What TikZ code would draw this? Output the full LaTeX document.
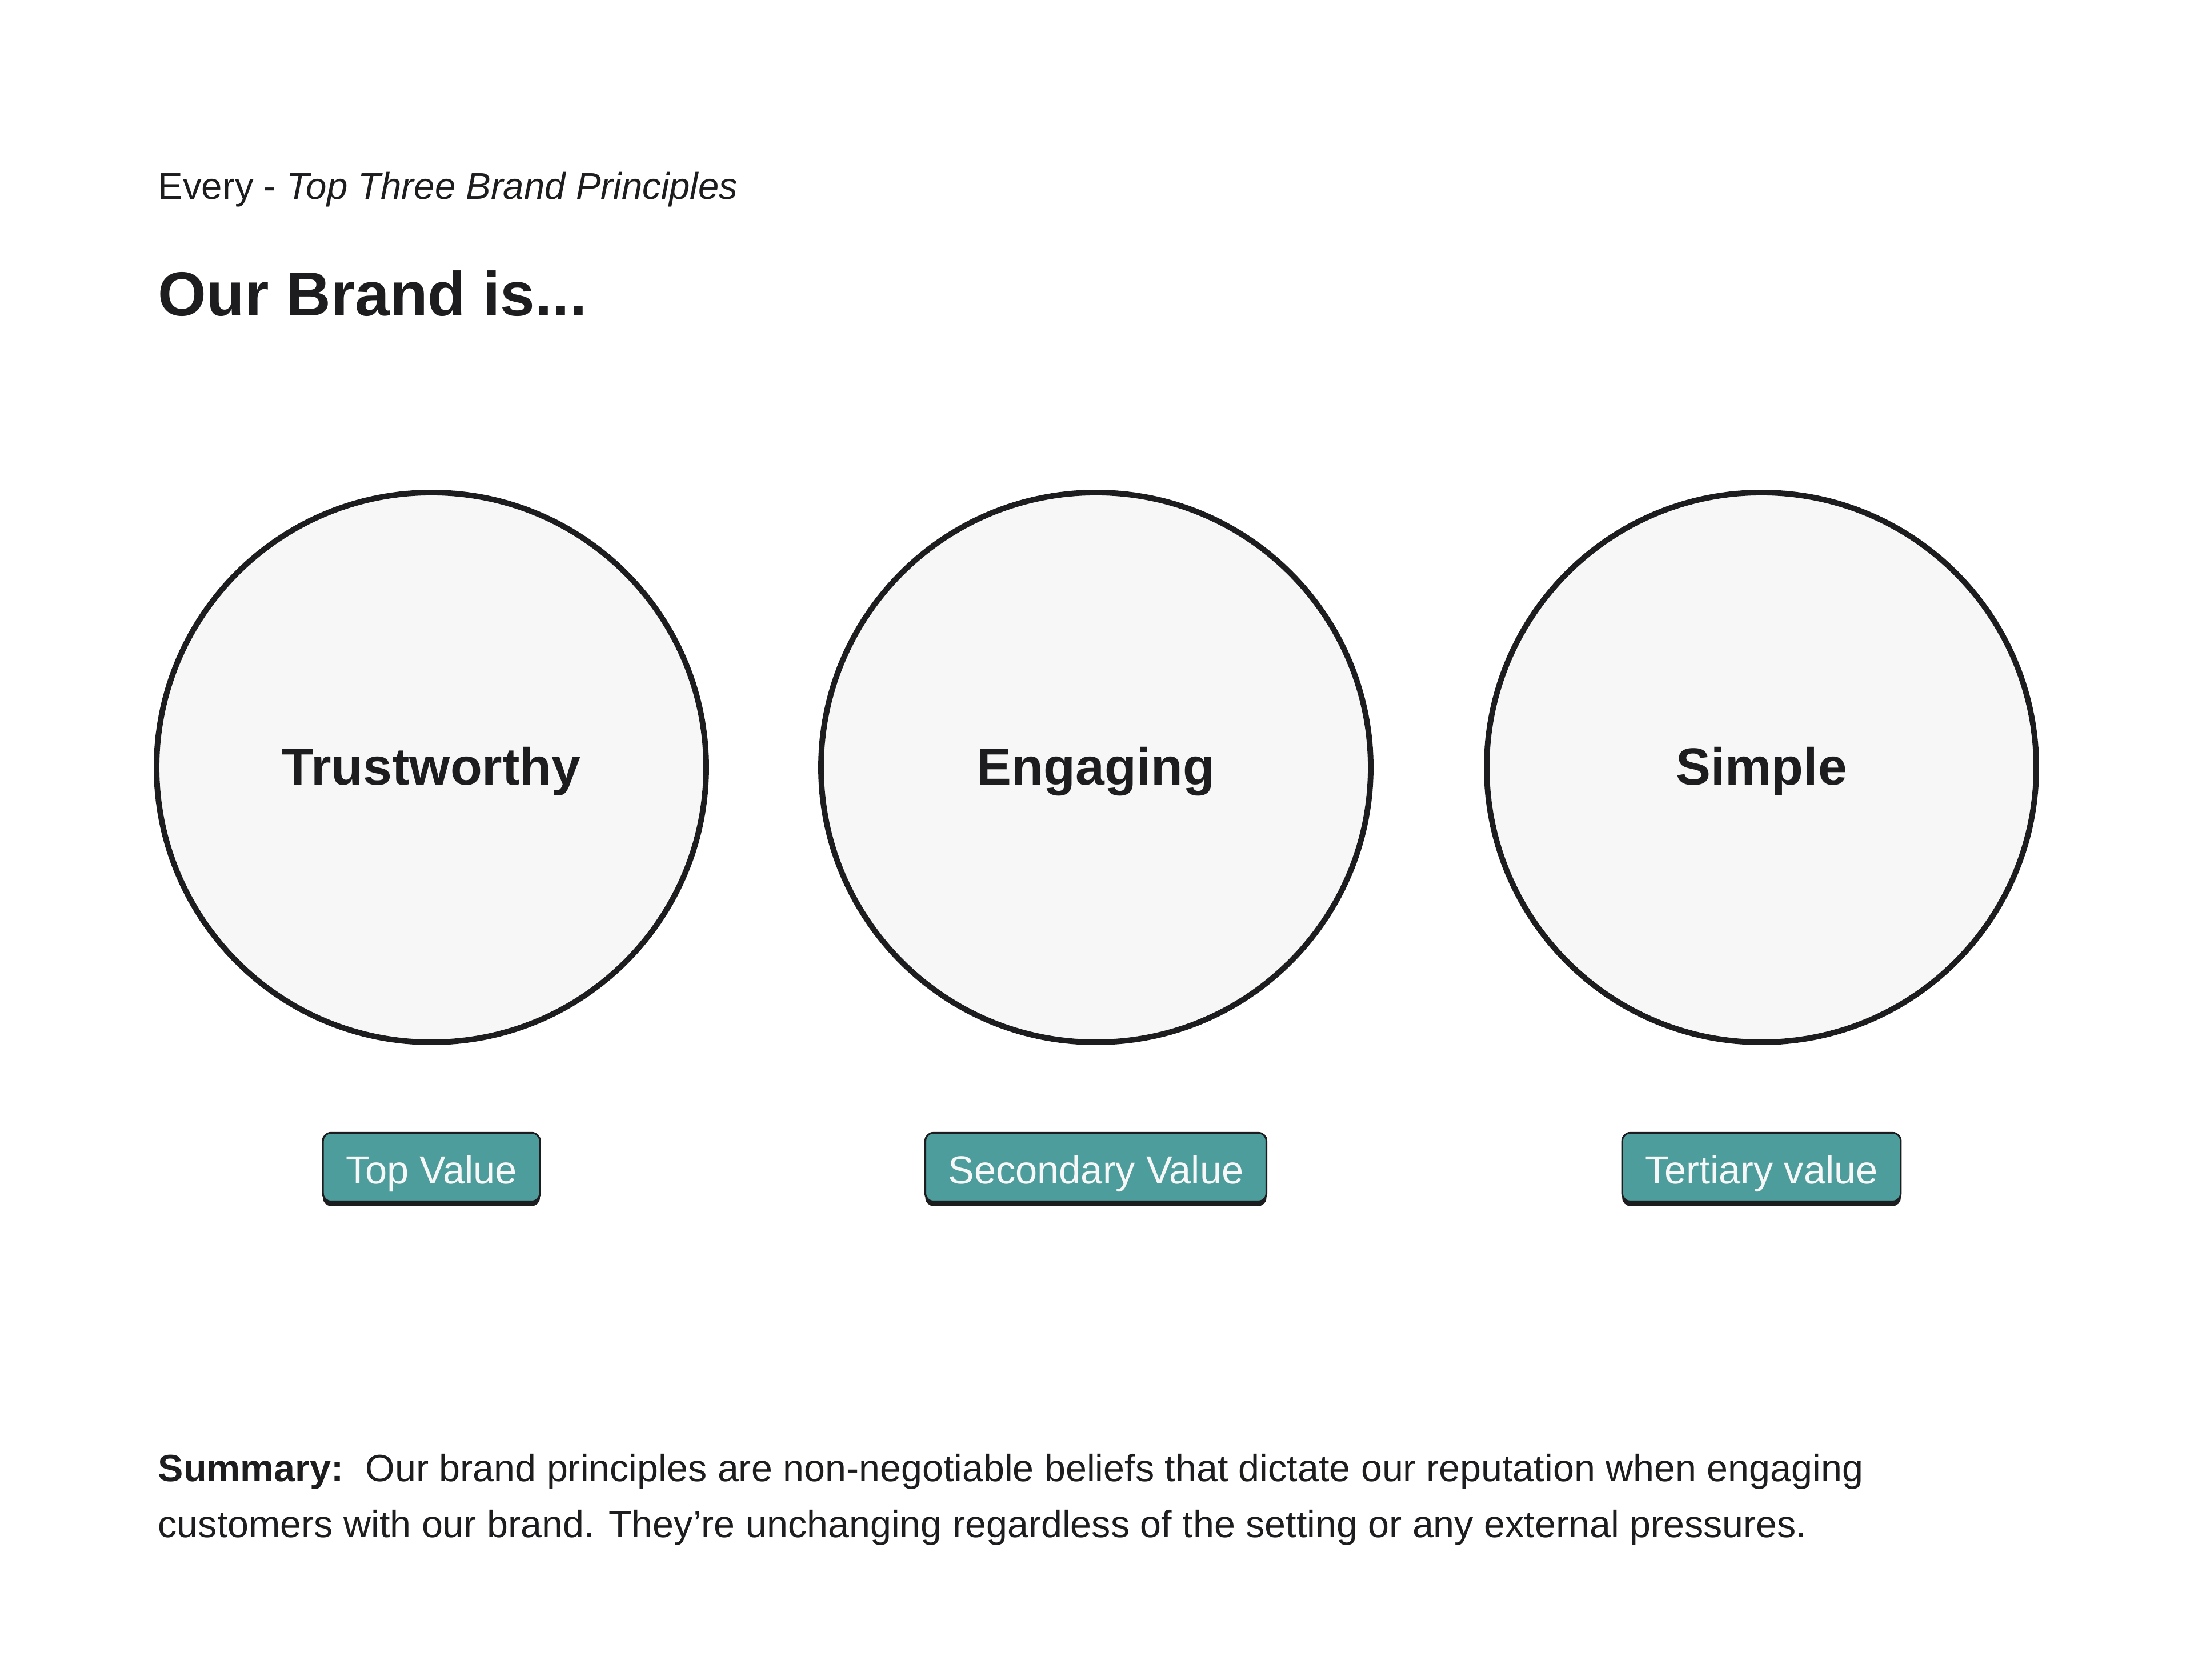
\documentclass[tikz,border=0pt]{standalone}
\usepackage{fontspec}
\setmainfont{Liberation Sans}
\usepackage{tikz}
\usetikzlibrary{positioning, shadows}

\definecolor{inkdark}{HTML}{1D1D1F}
\definecolor{circlefill}{HTML}{F7F7F7}
\definecolor{tagteal}{HTML}{4E9D9D}

\begin{document}
\begin{tikzpicture}[
    % --- STYLES ---
    principle/.style={
        circle, draw=inkdark, fill=circlefill,
        line width=2.8pt,
        minimum size=9.62cm, inner sep=0pt,
        text height=0.62cm, text depth=0pt,
        font=\fontsize{26pt}{30pt}\selectfont\bfseries,
        text=inkdark
    },
    tag/.style={
        rectangle, rounded corners=0.14cm,
        draw=inkdark, fill=tagteal, line width=0.9pt,
        minimum height=1.2cm, inner xsep=0.4cm,
        text height=0.58cm, text depth=0pt,
        text=circlefill,
        font=\fontsize{19.5pt}{24pt}\selectfont,
        drop shadow={shadow xshift=0cm, shadow yshift=-0.08cm,
                     fill=inkdark, opacity=1}
    },
    heading/.style={anchor=base west, inner sep=0pt, text=inkdark}
]

% ===== 1. CANVAS =====
\useasboundingbox (0,0) rectangle (38.4,29.39);
\fill[white] (0,0) rectangle (38.4,29.39);

% ===== 2. HEADERS =====
\node[heading, font=\fontsize{18.6pt}{23pt}\selectfont] (kicker) at (2.76, 25.9)
    {Every - \textit{Top Three Brand Principles}};
\node[heading, font=\fontsize{31pt}{36pt}\selectfont\bfseries] (title) at (2.76, 23.86)
    {Our Brand is...};

% ===== 3. PRINCIPLES =====
\node[principle] (trust)  at (7.55, 15.96)  {Trustworthy};
\node[principle] (engage) at (19.18, 15.96) {Engaging};
\node[principle] (simple) at (30.83, 15.96) {Simple};

% Tags under each circle
\node[tag, below=1.52cm of trust]  (top)  {Top Value};
\node[tag, below=1.52cm of engage] (sec)  {Secondary Value};
\node[tag, below=1.52cm of simple] (tert) {Tertiary value};

% ===== 4. SUMMARY =====
\node[heading, font=\fontsize{18.9pt}{24pt}\selectfont] (summary) at (2.76, 3.46)
    {\textbf{Summary:}\hspace{0.38cm}Our brand principles are non-negotiable beliefs that dictate our reputation when engaging};
\node[heading, font=\fontsize{18.9pt}{24pt}\selectfont] (summary2) at (2.76, 2.48)
    {customers with our brand. They’re unchanging regardless of the setting or any external pressures.};

\end{tikzpicture}
\end{document}
